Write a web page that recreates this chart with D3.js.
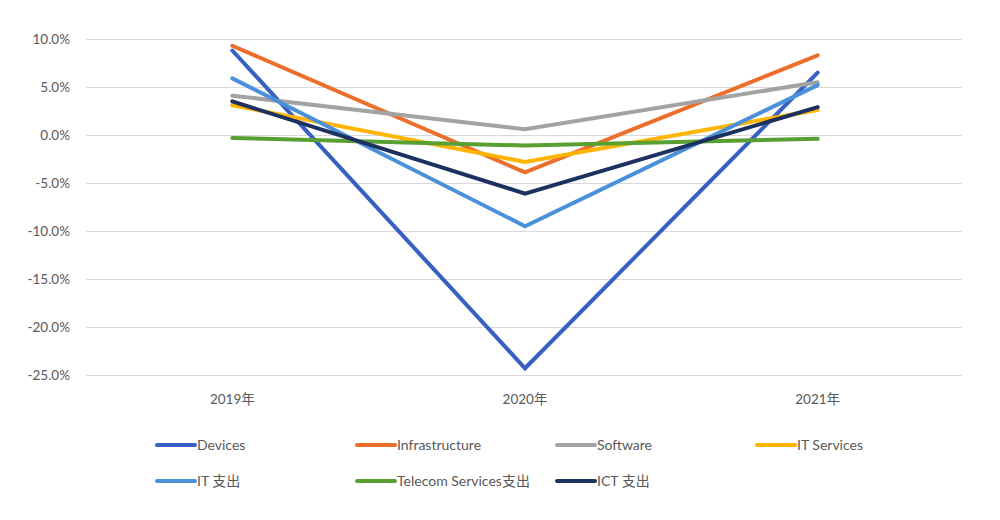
<!DOCTYPE html>
<html>
<head>
  <meta charset="utf-8">
  <title>IT spending growth</title>
  <script src="https://d3js.org/d3.v7.min.js"></script>
  <style>
    body { margin: 0; background: #fff; }
    text { font-family: Lato, "Noto Sans CJK SC", sans-serif; fill: #595959; }
  </style>
</head>
<body>
  <svg id="chart" width="1000" height="520"></svg>

  <script>
    // data (growth, %)
    const years = ["2019年", "2020年", "2021年"];
    const seriesNames = ["Devices", "Infrastructure", "Software", "IT Services", "IT 支出", "Telecom Services支出", "ICT 支出"];
    const devices = [8.8, -24.3, 6.5];
    const infrastructure = [9.3, -3.9, 8.3];
    const software = [4.1, 0.6, 5.5];
    const itServices = [3.1, -2.8, 2.6];
    const itSpending = [5.9, -9.5, 5.2];
    const telecom = [-0.3, -1.1, -0.4];
    const ict = [3.5, -6.1, 2.9];
    const yTicks = [10, 5, 0, -5, -10, -15, -20, -25];

    const allSeries = [devices, infrastructure, software, itServices, itSpending, telecom, ict];
    const colors = ["#3760c2", "#ed6d2a", "#a3a3a3", "#ffb400", "#4a91da", "#58a032", "#1d3161"];

    const svg = d3.select("#chart");
    const plotLeft = 86, plotRight = 964, plotTop = 39, plotBottom = 375;

    const x = d3.scaleBand().domain(years).range([plotLeft, plotRight]);
    const y = d3.scaleLinear().domain([-25, 10]).range([plotBottom, plotTop]);

    // horizontal gridlines + y labels
    const yAxis = d3.axisLeft(y).tickValues(yTicks)
      .tickSize(-(962 - plotLeft)).tickPadding(16)
      .tickFormat(d => d.toFixed(1) + "%");
    const gy = svg.append("g").attr("transform", `translate(${plotLeft},0)`).call(yAxis);
    gy.select(".domain").remove();
    gy.selectAll("line").attr("stroke", "#d9d9d9");
    gy.selectAll("text").style("font-size", "13.5px").style("fill", "#595959");

    // x labels
    const xAxis = d3.axisBottom(x).tickSize(0).tickPadding(19);
    const gx = svg.append("g").attr("transform", `translate(0,${plotBottom})`).call(xAxis);
    gx.select(".domain").remove();
    gx.selectAll("text").style("font-size", "13.5px").style("fill", "#595959");

    // lines
    const line = d3.line()
      .x((d, i) => x(years[i]) + x.bandwidth() / 2)
      .y(d => y(d));

    svg.append("g")
      .selectAll("path")
      .data(allSeries)
      .enter()
      .append("path")
      .attr("d", line)
      .attr("fill", "none")
      .attr("stroke", (d, i) => colors[i])
      .attr("stroke-width", 4)
      .attr("stroke-linecap", "round")
      .attr("stroke-linejoin", "miter");

    // legend, 4 columns
    const colX = [157, 357, 557, 757];
    const rowY = [445, 481];
    const legend = svg.append("g")
      .selectAll("g")
      .data(seriesNames)
      .enter()
      .append("g")
      .attr("transform", (d, i) => `translate(${colX[i % 4]},${rowY[Math.floor(i / 4)]})`);
    legend.append("line")
      .attr("x1", 0).attr("x2", 38)
      .attr("stroke", (d, i) => colors[i])
      .attr("stroke-width", 4)
      .attr("stroke-linecap", "round");
    legend.append("text")
      .attr("x", 40)
      .attr("dy", "0.35em")
      .style("font-size", "14px")
      .text(d => d);
  </script>
</body>
</html>
